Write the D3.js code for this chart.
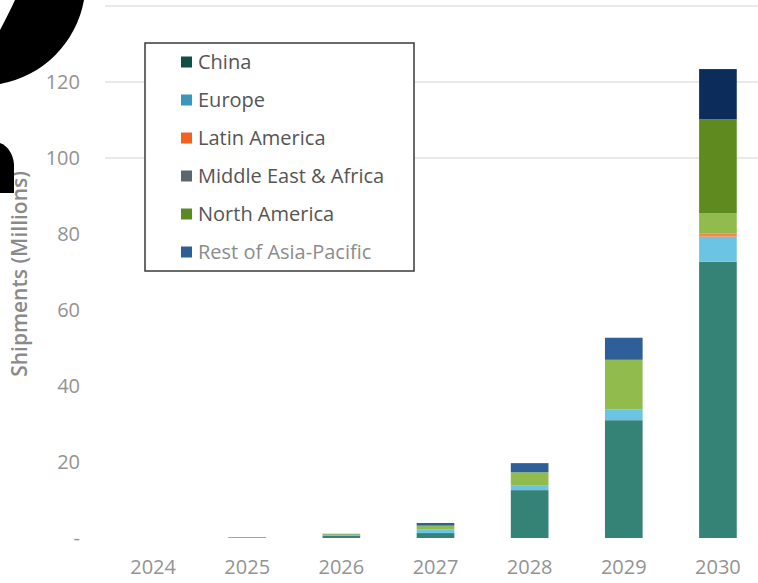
<html>
<head>
<title>Shipments by region</title>
<script src="https://cdn.jsdelivr.net/npm/d3@7"></script>
<style>
body { margin: 0; background: #fff; font-family: "Open Sans", sans-serif; }
.tick text { fill: #939393; font-size: 20px; font-family: "Open Sans", sans-serif; }
.legend text { font-size: 20px; }
</style>
</head>
<body>
<div id="chart"></div>
<script>
var years   = ['2024', '2025', '2026', '2027', '2028', '2029', '2030'],
    regions = ['China', 'Europe', 'Latin America', 'Middle East & Africa', 'North America', 'Rest of Asia-Pacific'],
    yTicks  = [0, 20, 40, 60, 80, 100, 120],
    gridTicks = [100, 120, 140];

// shipments in millions, one array per region, in the order of years
var china    = [0, 0.15, 0.65, 1.3, 12.6, 31.0, 72.7],
    europe   = [0, 0.03, 0.15, 0.9, 1.3, 2.8, 6.6],
    latam    = [0, 0, 0, 0, 0, 0, 0.9],
    mea      = [0, 0, 0, 0, 0, 0, 5.3],
    namerica = [0, 0.05, 0.2, 1.05, 3.4, 13.1, 24.7],
    restApac = [0, 0.02, 0.1, 0.7, 2.4, 5.8, 13.2];

var legendColors = ['#0f4f45', '#3a97bb', '#f2621f', '#5b6670', '#5b8a22', '#2e5f94'],
    barColors    = ['#358276', '#6cc4e4', '#f4884a', '#91bb4c', '#91bb4c', '#2f5f98'],
    hiColors     = ['#358276', '#6cc4e4', '#f4884a', '#91bb4c', '#5f8a1f', '#0c2d5c'],
    hiYear       = '2030';

var W = 758, H = 583;
var series = [china, europe, latam, mea, namerica, restApac];
var rows = years.map(function(y, i) {
    var r = {year: y};
    regions.forEach(function(k, j) { r[k] = series[j][i]; });
    return r;
});

var x = d3.scaleBand().domain(years).range([106, 765]).paddingInner(0.6).paddingOuter(0.3);
var y = d3.scaleLinear().domain([0, 140]).range([538, 6]);

var svg = d3.select('#chart').append('svg').attr('width', W).attr('height', H);

// gridlines
svg.append('g').selectAll('line').data(gridTicks).enter().append('line')
    .attr('x1', 105).attr('x2', W)
    .attr('y1', function(d) { return y(d); }).attr('y2', function(d) { return y(d); })
    .attr('stroke', '#e2e2e2').attr('stroke-width', 1.5);

// y axis
var yAxis = svg.append('g').attr('transform', 'translate(82,0)')
    .call(d3.axisLeft(y).tickValues(yTicks).tickSize(0).tickPadding(2)
        .tickFormat(function(d) { return d === 0 ? '-' : d; }));
yAxis.select('.domain').remove();

// x axis
var xAxis = svg.append('g').attr('transform', 'translate(0,558)')
    .call(d3.axisBottom(x).tickSize(0).tickPadding(2));
xAxis.select('.domain').remove();

svg.append('text')
    .attr('transform', 'translate(27,274) rotate(-90)')
    .attr('text-anchor', 'middle')
    .attr('fill', '#8a8a8a').attr('font-size', 21).attr('font-weight', 600)
    .text('Shipments (Millions)');

// stacked bars
var stack = d3.stack().keys(regions)(rows);
svg.append('g').selectAll('g').data(stack).enter().append('g')
    .each(function(s, j) {
        d3.select(this).selectAll('rect').data(s).enter().append('rect')
            .attr('x', function(d) { return x(d.data.year); })
            .attr('width', x.bandwidth())
            .attr('y', function(d) { return y(d[1]); })
            .attr('height', function(d) { return y(d[0]) - y(d[1]); })
            .attr('fill', function(d) { return d.data.year == hiYear ? hiColors[j] : barColors[j]; });
    });

// legend
var lg = svg.append('g').attr('class', 'legend');
lg.append('rect').attr('x', 145).attr('y', 43).attr('width', 269).attr('height', 228)
    .attr('fill', '#fff').attr('stroke', '#3a3a3a').attr('stroke-width', 1.5);
var item = lg.selectAll('g.item').data(regions).enter().append('g')
    .attr('class', 'item')
    .attr('transform', function(d, i) { return 'translate(181,' + (62 + i * 38) + ')'; });
item.append('rect').attr('x', 0).attr('y', -5.5).attr('width', 11).attr('height', 11)
    .attr('fill', function(d, i) { return legendColors[i]; });
item.append('text').attr('x', 17).attr('dy', '0.35em')
    .attr('fill', function(d, i) { return i == 5 ? '#8c8c8c' : '#555'; })
    .text(function(d) { return d; });

// black shapes over the top left corner
svg.append('path')
    .attr('d', 'M15,0 L84,0 A104,104 0 0 1 0,84 L0,30 Q9,13 15,0 Z')
    .attr('fill', '#000');
svg.append('path')
    .attr('d', 'M0,143 C8,146 13,154 14,164 L14,193 L0,193 Z')
    .attr('fill', '#000');
</script>
</body>
</html>
